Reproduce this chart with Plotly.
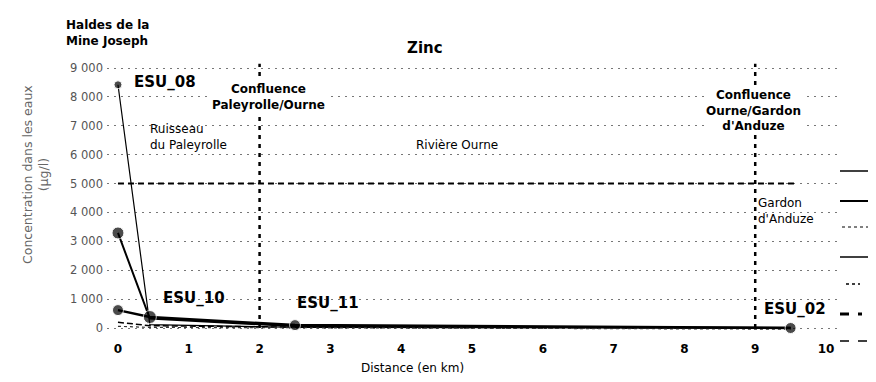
import plotly.graph_objects as go

# ---- data ----
distance_km = [0, 0.45, 2.5, 9.5]
esu08_series = [8420, 120, 25, 5]
ruisseau_series = [3290, 330, 60, 10]
main_series = [620, 380, 100, 0]
low_dashed = [200, 80, 30, 0]
low_dotted = [60, 20, 10, -40]
threshold_x = [0, 9.6]
threshold_y = [5000, 5000]
confluences_km = [2, 9]

x_ticks = list(range(0, 11))
x_ticktext = [f"<b>{v}</b>" for v in x_ticks]
y_ticks = [0, 1000, 2000, 3000, 4000, 5000, 6000, 7000, 8000, 9000]
y_ticktext = ["0", "1 000", "2 000", "3 000", "4 000", "5 000", "6 000", "7 000", "8 000", "9 000"]

OFF = 8  # page body margin
W, H = 876 - OFF, 382 - OFF
ML, MT = 107 - OFF, 62 - OFF
MR = W - (837 - OFF)
MB = H - (335 - OFF)
PW = W - ML - MR
PH = H - MT - MB

FONT = "DejaVu Sans"

def px_x(rx):
    return (rx - OFF - ML) / PW

def px_y(ry):
    return (H - MB - (ry - OFF)) / PH

fig = go.Figure()

fig.add_trace(go.Scatter(x=distance_km, y=esu08_series, mode="lines+markers",
                         line=dict(color="black", width=1.2),
                         marker=dict(color="black", size=[8, 0, 0, 0], symbol="circle"),
                         showlegend=False))
fig.add_trace(go.Scatter(x=distance_km, y=ruisseau_series, mode="lines+markers",
                         line=dict(color="black", width=2),
                         marker=dict(color="black", size=[12, 0, 0, 0]),
                         showlegend=False))
fig.add_trace(go.Scatter(x=distance_km, y=low_dashed, mode="lines",
                         line=dict(color="black", width=1.5, dash="6px,3px"),
                         showlegend=False))
fig.add_trace(go.Scatter(x=distance_km, y=low_dotted, mode="lines",
                         line=dict(color="#333", width=1.2, dash="dot"),
                         showlegend=False))
fig.add_trace(go.Scatter(x=distance_km, y=main_series, mode="lines+markers",
                         line=dict(color="black", width=2.5),
                         marker=dict(color="black", size=[11, 13, 11, 11]),
                         showlegend=False))
fig.add_trace(go.Scatter(x=threshold_x, y=threshold_y, mode="lines",
                         line=dict(color="black", width=2, dash="6px,4px"),
                         showlegend=False))

# confluence vertical lines
for cx in confluences_km:
    fig.add_shape(type="line", xref="x", yref="y", x0=cx, x1=cx, y0=0, y1=9150,
                  line=dict(color="black", width=2.5, dash="4px,5px"), layer="below")

def ann(text, x, y, size=11, bold=True, xanchor="center", align="center",
        xref="x", yref="y", bg=None, color="black", angle=0):
    t = f"<b>{text}</b>" if bold else text
    fig.add_annotation(text=t, x=x, y=y, xref=xref, yref=yref, showarrow=False,
                       xanchor=xanchor, yanchor="middle", align=align, textangle=angle,
                       font=dict(family=FONT, size=size, color=color),
                       bgcolor=bg)

ann("Haldes de la<br>Mine Joseph", px_x(64), px_y(33), size=12,
    xanchor="left", align="left", xref="paper", yref="paper")
ann("Zinc", 4.34, px_y(48), size=15, yref="paper")
ann("ESU_08", 0.67, 8515, size=15)
ann("Ruisseau<br>du Paleyrolle", 0.42, 6600, size=12, bold=False, xanchor="left", align="left")
ann("Confluence<br>Paleyrolle/Ourne", 2.12, 7995, size=12, bg="white")
ann("Rivière Ourne", 4.79, 6334, size=12, bold=False, bg="white")
ann("Confluence<br>Ourne/Gardon<br>d'Anduze", 8.98, 7546, size=12, bg="white")
ann("Gardon<br>d'Anduze", 9.01, 4050, size=12, bold=False, xanchor="left", align="left")
ann("ESU_10", 1.08, 1040, size=15)
ann("ESU_11", 2.97, 865, size=15)
ann("ESU_02", 9.56, 660, size=15)
ann("Distance (en km)", px_x(412), px_y(368), size=12, bold=False,
    xref="paper", yref="paper")
ann("Concentration dans les eaux<br>(µg/l)", px_x(35), px_y(175), size=12.5, bold=False,
    xref="paper", yref="paper", color="#666", angle=-90)

# legend samples (labels are cut off at the page edge in the original)
legend_items = [
    (171, "solid", 1.5, 840, 872, True),
    (201, "solid", 2, 840, 872, True),
    (227, "dot", 1, 842, 872, True),
    (257, "solid", 1.5, 840, 872, True),
    (284, "dot", 1.5, 846, 860, False),
    (314, "dash", 3, 840, 862, False),
    (341, "dash", 1.5, 840, 876, False),
]
for py, dash, wd, xa, xb, bar in legend_items:
    fig.add_shape(type="line", xref="paper", yref="paper",
                  x0=px_x(xa), x1=px_x(xb), y0=px_y(py), y1=px_y(py),
                  line=dict(color="black", width=wd, dash=dash))
    if bar:
        fig.add_shape(type="rect", xref="paper", yref="paper",
                      x0=px_x(869), x1=px_x(874), y0=px_y(py + 6), y1=px_y(py - 6),
                      fillcolor="black", line=dict(width=0))

fig.update_layout(
    template="none",
    width=W, height=H,
    margin=dict(l=ML, r=MR, t=MT, b=MB, autoexpand=False),
    paper_bgcolor="white", plot_bgcolor="white",
    showlegend=False,
    font=dict(family=FONT, color="black"),
    xaxis=dict(range=[-0.155, 10.155], tickvals=x_ticks, ticktext=x_ticktext,
               showgrid=False, zeroline=False, ticklabelstandoff=5,
               showline=False, ticks="", automargin=False,
               tickfont=dict(size=12, color="black", family=FONT)),
    yaxis=dict(range=[-242, 9208], tickvals=y_ticks, ticktext=y_ticktext,
               showgrid=True, gridcolor="#777", griddash="2px,5px", gridwidth=1,
               zeroline=False, showline=False, ticks="", automargin=False,
               ticklabelstandoff=3,
               tickfont=dict(size=11.5, color="#555", family=FONT)),
)

fig.write_html("out.html")
